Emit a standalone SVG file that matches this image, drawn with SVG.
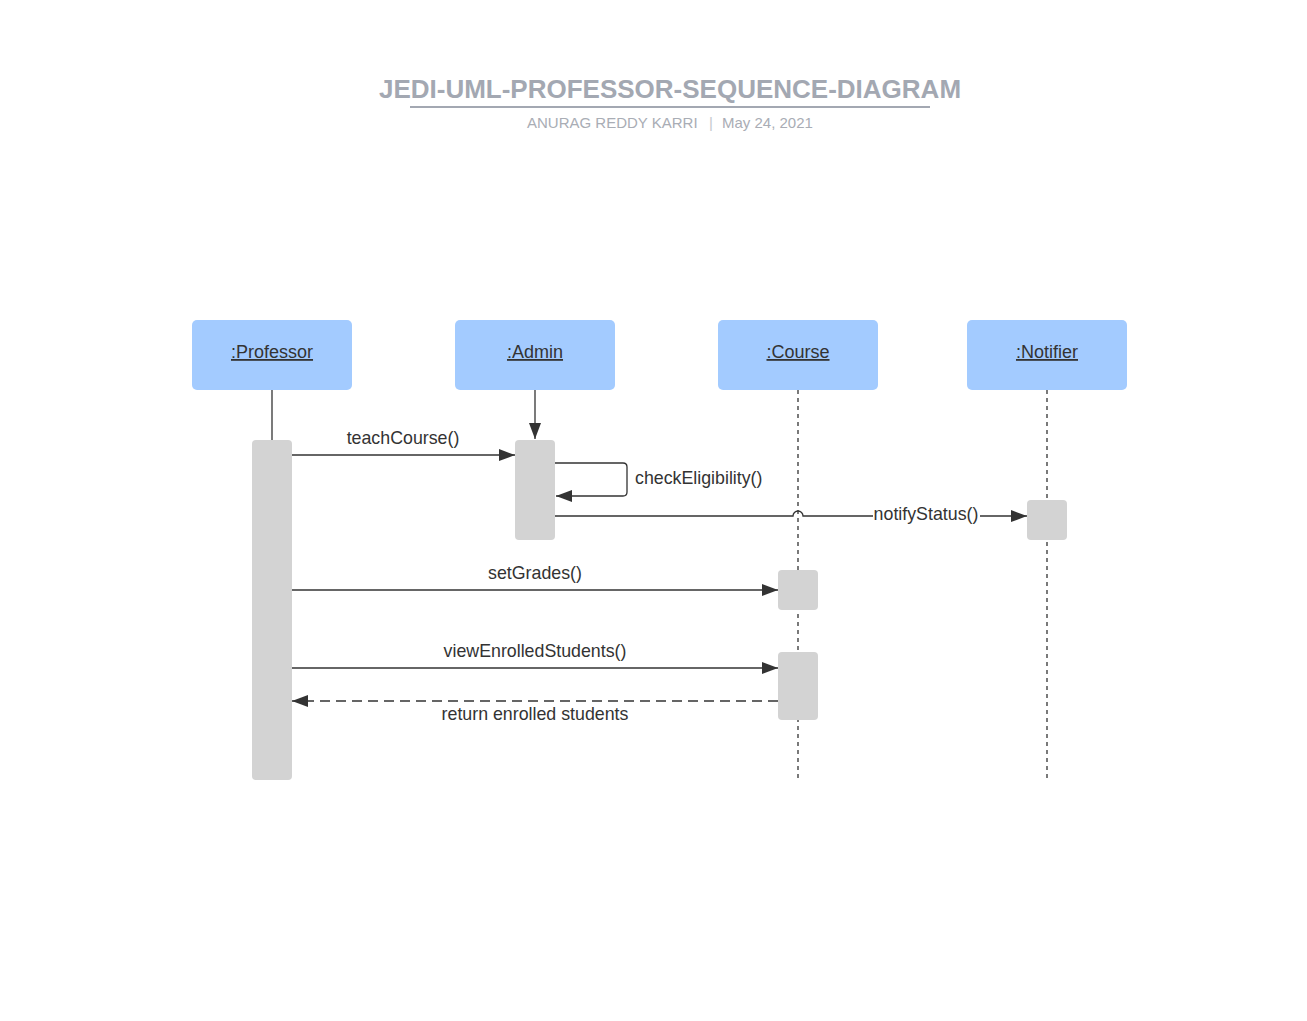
<svg xmlns="http://www.w3.org/2000/svg" width="1307" height="1021" viewBox="0 0 1307 1021">
<defs>
<marker id="arr" markerWidth="16" markerHeight="12" refX="16" refY="6" orient="auto" markerUnits="userSpaceOnUse">
<path d="M0,0 L16,6 L0,12 Z" fill="#333333"/>
</marker>
<style>
.actor{fill:#a3cbff;}
.act{fill:#d3d3d3;}
.alabel{font-family:"Liberation Sans",Arial,sans-serif;font-size:18px;fill:#333333;text-anchor:middle;text-decoration:underline;}
.msg{font-family:"Liberation Sans",Arial,sans-serif;font-size:17.8px;fill:#333333;}
.line{stroke:#333333;stroke-width:1.3;fill:none;}
.dash{stroke:#333333;stroke-width:1.3;fill:none;stroke-dasharray:4,4;}
.ret{stroke:#333333;stroke-width:1.3;fill:none;stroke-dasharray:10,6;}
</style>
</defs>
<rect width="1307" height="1021" fill="#ffffff"/>
<g id="title">
<text x="670" y="98" text-anchor="middle" font-family="'Liberation Sans',Arial,sans-serif" font-size="26" font-weight="bold" fill="#a3a8b2">JEDI-UML-PROFESSOR-SEQUENCE-DIAGRAM</text>
<line x1="410" y1="107" x2="930" y2="107" stroke="#a3a8b2" stroke-width="2"/>
<text x="527" y="128" font-family="'Liberation Sans',Arial,sans-serif" font-size="15" fill="#a9adb5">ANURAG REDDY KARRI</text>
<text x="711" y="128" text-anchor="middle" font-family="'Liberation Sans',Arial,sans-serif" font-size="15" fill="#c5c8ce">|</text>
<text x="722" y="128" font-family="'Liberation Sans',Arial,sans-serif" font-size="15" fill="#a9adb5">May 24, 2021</text>
</g>
<g id="lifelines">
<line class="line" x1="272" y1="390" x2="272" y2="440"/>
<line class="line" x1="535" y1="390" x2="535" y2="439" marker-end="url(#arr)"/>
<line class="dash" x1="798" y1="390" x2="798" y2="780"/>
<line class="dash" x1="1047" y1="390" x2="1047" y2="780"/>
</g>
<g id="professor">
<rect class="actor" x="192" y="320" width="160" height="70" rx="5"/>
<text class="alabel" x="272" y="358">:Professor</text>
<rect class="act" x="252" y="440" width="40" height="340" rx="4"/>
</g>
<g id="admin">
<rect class="actor" x="455" y="320" width="160" height="70" rx="5"/>
<text class="alabel" x="535" y="358">:Admin</text>
<rect class="act" x="515" y="440" width="40" height="100" rx="4"/>
</g>
<g id="course">
<rect class="actor" x="718" y="320" width="160" height="70" rx="5"/>
<text class="alabel" x="798" y="358">:Course</text>
<rect class="act" x="778" y="570" width="40" height="40" rx="4"/>
<rect class="act" x="778" y="652" width="40" height="68" rx="4"/>
</g>
<g id="notifier">
<rect class="actor" x="967" y="320" width="160" height="70" rx="5"/>
<text class="alabel" x="1047" y="358">:Notifier</text>
<rect class="act" x="1027" y="500" width="40" height="40" rx="4"/>
</g>
<g id="connectors">
<line class="line" x1="292" y1="455" x2="515" y2="455" marker-end="url(#arr)"/>
<text class="msg" x="403" y="444" text-anchor="middle">teachCourse()</text>
<path class="line" d="M555,463 H623 Q627,463 627,467 V492 Q627,496 623,496 H556" marker-end="url(#arr)"/>
<text class="msg" x="635" y="484">checkEligibility()</text>
<path class="line" d="M555,516 H793 A5,5 0 0 1 803,516 H873"/>
<text class="msg" x="926" y="520" text-anchor="middle">notifyStatus()</text>
<line class="line" x1="980" y1="516" x2="1027" y2="516" marker-end="url(#arr)"/>
<line class="line" x1="292" y1="590" x2="778" y2="590" marker-end="url(#arr)"/>
<text class="msg" x="535" y="579" text-anchor="middle">setGrades()</text>
<line class="line" x1="292" y1="668" x2="778" y2="668" marker-end="url(#arr)"/>
<text class="msg" x="535" y="657" text-anchor="middle">viewEnrolledStudents()</text>
<line class="ret" x1="778" y1="701" x2="292" y2="701" marker-end="url(#arr)"/>
<text class="msg" x="535" y="720" text-anchor="middle">return enrolled students</text>
</g>
</svg>
